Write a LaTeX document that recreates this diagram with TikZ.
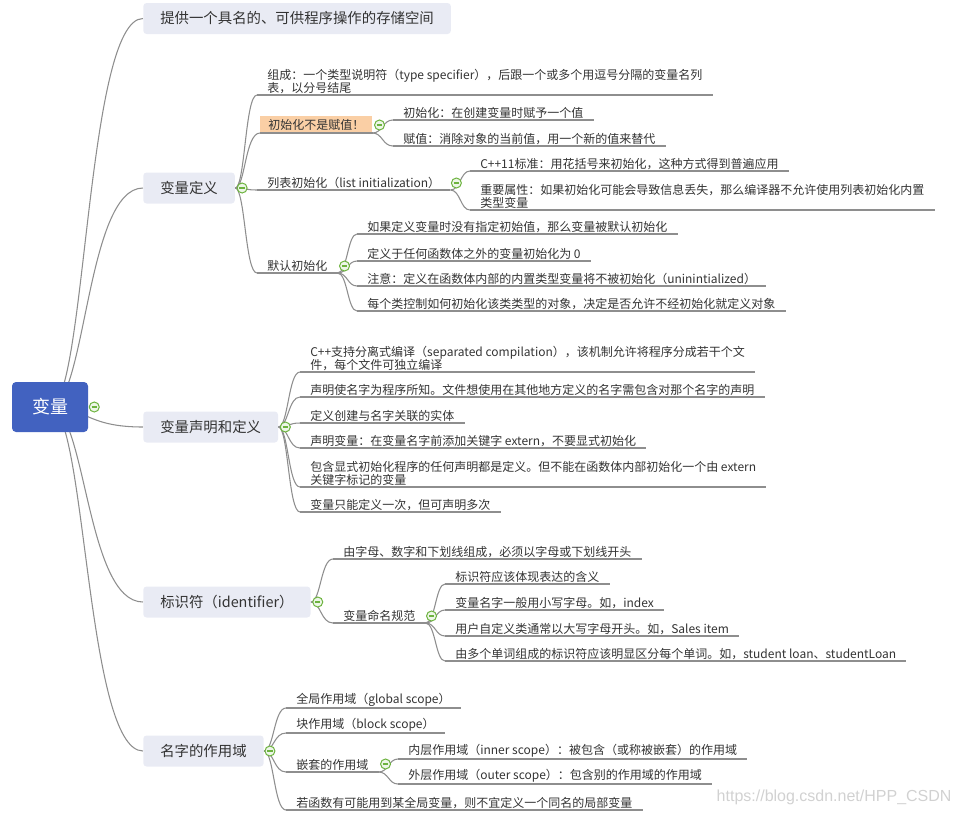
\documentclass[tikz,border=0pt]{standalone}
\usepackage{fontspec}
\setmainfont{Noto Sans CJK SC}
\newfontfamily\markfont{Liberation Sans}
\usetikzlibrary{calc,backgrounds}

\definecolor{rootblue}{HTML}{4262C0}
\definecolor{topicgray}{HTML}{E9EBF4}
\definecolor{linegray}{HTML}{8E8E8E}
\definecolor{textgray}{HTML}{333333}
\definecolor{foldgreen}{HTML}{6DB33F}
\definecolor{notefill}{HTML}{FACFA5}

\tikzset{
  root/.style={fill=rootblue, rounded corners=3pt, text=white, minimum width=57pt,
    minimum height=37.5pt, font=\fontsize{13.5}{16}\selectfont},
  topic/.style={fill=topicgray, rounded corners=2.5pt, text=textgray, minimum height=23.25pt,
    inner xsep=12.75pt, anchor=west, font=\fontsize{10.8}{13}\selectfont},
  uline/.style={draw=linegray, line width=0.9pt},
  leaf/.style={text=textgray, anchor=south west, align=left, inner xsep=7.5pt, inner ysep=1pt,
    font=\fontsize{9}{9.75}\selectfont,
    append after command={(\tikzlastnode.south west) edge[uline] (\tikzlastnode.south east)}},
  branch/.style={draw=linegray, line width=0.8pt,
    to path={.. controls ($(\tikztostart)+(#1,0)$) and ($(\tikztostart |- \tikztotarget)+(#1,0)$) .. (\tikztotarget) \tikztonodes}},
  branch/.default=10,
  fold/.style={circle, draw=foldgreen, fill=foldgreen!12, line width=0.75pt, minimum size=7.5pt,
    inner sep=0pt, path picture={\draw[foldgreen, line width=0.9pt]
      ([xshift=-2pt]path picture bounding box.center) -- ([xshift=2pt]path picture bounding box.center);}},
}

\begin{document}
\begin{tikzpicture}[x=0.75pt, y=-0.75pt]
\useasboundingbox (0,0) rectangle (956,815);

% root and main topics
\node[root] (var) at (50,407) {变量};
\node[topic] (store) at (143,18.5) {提供一个具名的、可供程序操作的存储空间};
\node[topic] (def) at (143,188) {变量定义};
\node[topic] (decl) at (143,427) {变量声明和定义};
\node[topic] (ident) at (143,602) {标识符（identifier）};
\node[topic] (scope) at (143,751) {名字的作用域};

% 变量定义
\node[leaf] (compose) at (257,95) {组成：一个类型说明符（type specifier），后跟一个或多个用逗号分隔的变量名列\\表，以分号结尾};
\node[leaf, fill=notefill, inner xsep=6pt, inner ysep=2pt] (notassign) at (260,133) {初始化不是赋值！};
\node[leaf] (initv) at (393,120) {初始化：在创建变量时赋予一个值};
\node[leaf] (assign) at (393,146) {赋值：消除对象的当前值，用一个新的值来替代};
\node[leaf] (listinit) at (257,190) {列表初始化（list initialization）};
\node[leaf] (cxx) at (470,171) {C++11标准：用花括号来初始化，这种方式得到普遍应用};
\node[leaf] (narrow) at (470,210) {重要属性：如果初始化可能会导致信息丢失，那么编译器不允许使用列表初始化内置\\类型变量};
\node[leaf] (definit) at (257,273) {默认初始化};
\node[leaf] (noinit) at (357,234) {如果定义变量时没有指定初始值，那么变量被默认初始化};
\node[leaf] (outside) at (357,261) {定义于任何函数体之外的变量初始化为 0};
\node[leaf] (inside) at (357,286) {注意：定义在函数体内部的内置类型变量将不被初始化（uninintialized）};
\node[leaf] (perclass) at (357,311) {每个类控制如何初始化该类类型的对象，决定是否允许不经初始化就定义对象};

% 变量声明和定义
\node[leaf] (separate) at (300,372) {C++支持分离式编译（separated compilation），该机制允许将程序分成若干个文\\件，每个文件可独立编译};
\node[leaf] (declare) at (300,397) {声明使名字为程序所知。文件想使用在其他地方定义的名字需包含对那个名字的声明};
\node[leaf] (entity) at (300,423) {定义创建与名字关联的实体};
\node[leaf] (externd) at (300,448) {声明变量：在变量名字前添加关键字 extern，不要显式初始化};
\node[leaf] (explicit) at (300,487) {包含显式初始化程序的任何声明都是定义。但不能在函数体内部初始化一个由 extern\\关键字标记的变量};
\node[leaf] (once) at (300,512) {变量只能定义一次，但可声明多次};

% 标识符
\node[leaf] (chars) at (333,559) {由字母、数字和下划线组成，必须以字母或下划线开头};
\node[leaf] (naming) at (333,623) {变量命名规范};
\node[leaf] (meaning) at (445,584) {标识符应该体现表达的含义};
\node[leaf] (lower) at (445,610) {变量名字一般用小写字母。如，index};
\node[leaf] (upper) at (445,636) {用户自定义类通常以大写字母开头。如，Sales item};
\node[leaf] (words) at (445,661) {由多个单词组成的标识符应该明显区分每个单词。如，student loan、studentLoan};

% 名字的作用域
\node[leaf] (global) at (286,708) {全局作用域（global scope）};
\node[leaf] (block) at (286,733) {块作用域（block scope）};
\node[leaf] (nested) at (286,772) {嵌套的作用域};
\node[leaf] (inner) at (398,759) {内层作用域（inner scope）：被包含（或称被嵌套）的作用域};
\node[leaf] (outer) at (398,784) {外层作用域（outer scope）：包含别的作用域的作用域};
\node[leaf] (shadow) at (286,810) {若函数有可能用到某全局变量，则不宜定义一个同名的局部变量};

% connectors
\begin{scope}[on background layer]
\draw[branch=36] (var.center) to (store.west);
\draw[branch=36] (var.center) to (def.west);
\draw[branch=36] (var.center) to (decl.west);
\draw[branch=36] (var.center) to (ident.west);
\draw[branch=36] (var.center) to (scope.west);

\draw[branch] (def.east) to (compose.south west);
\draw[branch] (def.east) to (notassign.south west);
\draw[branch] (def.east) to (listinit.south west);
\draw[branch] (def.east) to (definit.south west);
\draw[branch] (notassign.south east) to (initv.south west);
\draw[branch] (notassign.south east) to (assign.south west);
\draw[branch] (listinit.south east) to (cxx.south west);
\draw[branch] (listinit.south east) to (narrow.south west);
\draw[branch] (definit.south east) to (noinit.south west);
\draw[branch] (definit.south east) to (outside.south west);
\draw[branch] (definit.south east) to (inside.south west);
\draw[branch] (definit.south east) to (perclass.south west);

\draw[branch] (decl.east) to (separate.south west);
\draw[branch] (decl.east) to (declare.south west);
\draw[branch] (decl.east) to (entity.south west);
\draw[branch] (decl.east) to (externd.south west);
\draw[branch] (decl.east) to (explicit.south west);
\draw[branch] (decl.east) to (once.south west);

\draw[branch] (ident.east) to (chars.south west);
\draw[branch] (ident.east) to (naming.south west);
\draw[branch] (naming.south east) to (meaning.south west);
\draw[branch] (naming.south east) to (lower.south west);
\draw[branch] (naming.south east) to (upper.south west);
\draw[branch] (naming.south east) to (words.south west);

\draw[branch] (scope.east) to (global.south west);
\draw[branch] (scope.east) to (block.south west);
\draw[branch] (scope.east) to (nested.south west);
\draw[branch] (scope.east) to (shadow.south west);
\draw[branch] (nested.south east) to (inner.south west);
\draw[branch] (nested.south east) to (outer.south west);
\end{scope}

% fold buttons
\node[fold] (foldvar) at ($(var.east)+(6,0)$) {};
\node[fold] (folddef) at ($(def.east)+(7,0)$) {};
\node[fold] (folddecl) at ($(decl.east)+(7,0)$) {};
\node[fold] (foldident) at ($(ident.east)+(7,0)$) {};
\node[fold] (foldscope) at ($(scope.east)+(6,0)$) {};
\node[fold] (foldnote) at ($(notassign.south east)+(7,-8)$) {};
\node[fold] (foldlist) at ($(listinit.south east)+(6,-7)$) {};
\node[fold] (folddefinit) at ($(definit.south east)+(7,-7)$) {};
\node[fold] (foldnaming) at ($(naming.south east)+(6,-7)$) {};
\node[fold] (foldnested) at ($(nested.south east)+(7,-8)$) {};

% watermark
\node[anchor=west, text=black!18, font=\markfont\fontsize{12}{14}\selectfont] (mark) at (712,797) {https://blog.csdn.net/HPP\_CSDN};

\end{tikzpicture}
\end{document}
